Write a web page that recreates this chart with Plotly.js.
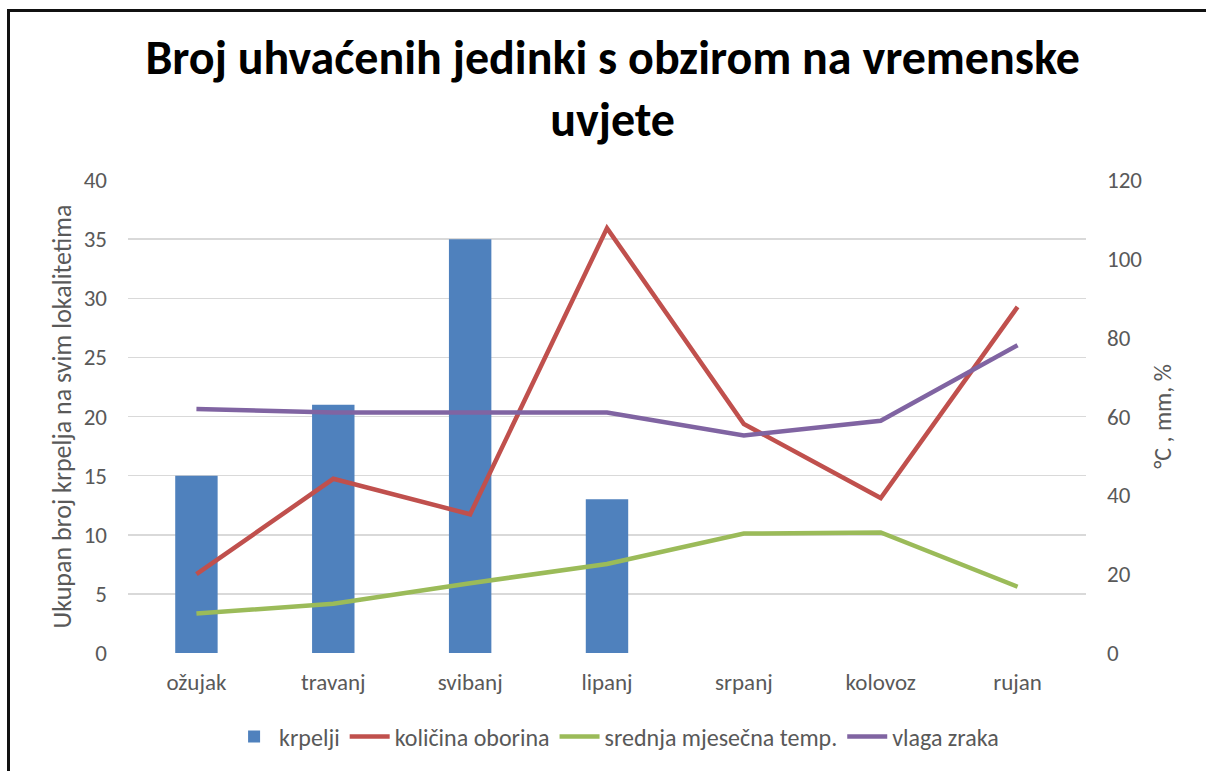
<!DOCTYPE html>
<html>
<head>
<meta charset="utf-8">
<script src="https://cdn.plot.ly/plotly-3.0.1.min.js"></script>
<style>
  html, body { margin: 0; padding: 0; background: #fff; }
  #wrap { position: relative; width: 1206px; height: 771px; }
  #chart { width: 1206px; height: 771px; }
  #frame { position: absolute; left: 7px; top: 9px; width: 1210px; height: 780px;
           border-left: 3px solid #111; border-top: 3px solid #111; pointer-events: none; }
</style>
</head>
<body>
<div id="wrap">
  <div id="chart"></div>
  <div id="frame"></div>
</div>
<script>
const months = ["ožujak", "travanj", "svibanj", "lipanj", "srpanj", "kolovoz", "rujan"];
const krpelji = [15, 21, 35, 13, null, null, null];
const oborina = [20, 44.2, 35.2, 107.8, 58.1, 39.3, 87.8];
const temperatura = [10.0, 12.5, 17.7, 22.6, 30.3, 30.6, 16.8];
const vlaga = [61.9, 61.0, 61.0, 61.0, 55.2, 58.9, 78.1];

const font = "Carlito, 'Open Sans', sans-serif";

const traces = [
  { type: "bar", name: "krpelji", x: months, y: krpelji, width: 0.31,
    marker: { color: "#4F81BD" }, yaxis: "y" },
  { type: "scatter", mode: "lines", name: "količina oborina", x: months, y: oborina,
    line: { color: "#C0504D", width: 4.5 }, yaxis: "y2" },
  { type: "scatter", mode: "lines", name: "srednja mjesečna temp.", x: months, y: temperatura,
    line: { color: "#9BBB59", width: 4.5 }, yaxis: "y2" },
  { type: "scatter", mode: "lines", name: "vlaga zraka", x: months, y: vlaga,
    line: { color: "#8064A2", width: 4.5 }, yaxis: "y2" }
];

const layout = {
  width: 1206, height: 771,
  paper_bgcolor: "#fff", plot_bgcolor: "#fff",
  margin: { l: 128, r: 120, t: 180, b: 116 },
  font: { family: font, color: "#595959", size: 22 },
  title: { text: "Broj uhvaćenih jedinki s obzirom na vremenske<br>uvjete",
           font: { family: font, size: 48, color: "#000", weight: "bold" },
           x: 0.508, xanchor: "center", y: 0.904, yanchor: "middle" },
  showlegend: true,
  legend: { orientation: "h", x: 0.51, xanchor: "center", y: -0.13, yanchor: "top",
            font: { size: 24, color: "#595959" }, traceorder: "normal", itemwidth: 40 },
  xaxis: { type: "category", showgrid: false, showline: false, zeroline: false,
           ticks: "", tickfont: { size: 23, color: "#595959" }, ticklabelstandoff: 13 },
  yaxis: { range: [0, 40], dtick: 5, showgrid: true, gridcolor: "#D9D9D9", gridwidth: 1.5,
           zeroline: false, showline: false, ticks: "", ticklabelstandoff: 20,
           tickfont: { size: 23, color: "#595959" },
           title: { text: "Ukupan broj krpelja na svim lokalitetima",
                    font: { size: 26, color: "#595959" }, standoff: 4 } },
  yaxis2: { range: [0, 120], dtick: 20, overlaying: "y", side: "right", showgrid: false,
            zeroline: false, showline: false, ticks: "", ticklabelstandoff: 20,
            tickfont: { size: 23, color: "#595959" },
            title: { text: "°C , mm, %", font: { size: 24, color: "#595959" }, standoff: 12 } },
  bargap: 0.69
};

Plotly.newPlot("chart", traces, layout, { displayModeBar: false, staticPlot: true });
</script>
</body>
</html>
